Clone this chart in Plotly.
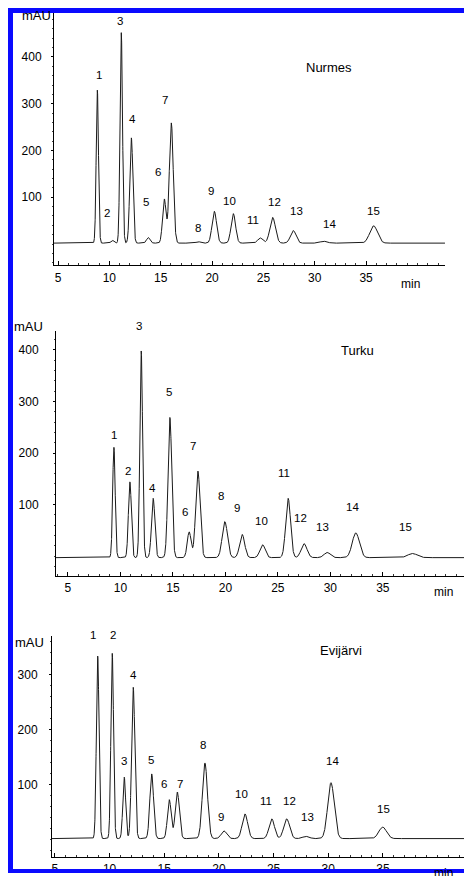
import numpy as np
import plotly.graph_objects as go

# ---------------- data ----------------
peak_labels = [str(i) for i in range(1, 16)]

# Nurmes
nurmes_rt = [8.83, 10.29, 11.16, 12.14, 13.79, 15.35, 16.03, 18.66, 20.22, 22.07, 24.7, 25.9, 27.9, 30.86, 35.73]
nurmes_height = [327, 6, 450, 225, 12, 94, 257, 3, 68, 63, 11, 55, 27, 4, 37]
nurmes_sigma = [0.11, 0.14, 0.12, 0.15, 0.17, 0.17, 0.19, 0.2, 0.22, 0.22, 0.25, 0.27, 0.27, 0.35, 0.38]
nurmes_baseline = 2

# Turku
turku_rt = [9.38, 10.9, 11.98, 13.12, 14.71, 16.55, 17.38, 19.95, 21.6, 23.54, 25.98, 27.5, 29.7, 32.43, 37.83]
turku_height = [214, 147, 401, 115, 272, 50, 168, 70, 45, 25, 115, 27, 10, 48, 8]
turku_sigma = [0.12, 0.14, 0.13, 0.16, 0.18, 0.18, 0.21, 0.25, 0.24, 0.25, 0.23, 0.28, 0.3, 0.34, 0.45]
turku_baseline = -3

# Evijärvi
evijarvi_rt = [8.91, 10.24, 11.34, 12.16, 13.85, 15.46, 16.19, 18.72, 20.46, 22.38, 24.83, 26.2, 27.96, 30.25, 34.98]
evijarvi_height = [333, 338, 112, 276, 118, 71, 85, 138, 14, 45, 36, 36, 4, 102, 21]
evijarvi_sigma = [0.12, 0.12, 0.13, 0.15, 0.17, 0.17, 0.19, 0.23, 0.25, 0.25, 0.25, 0.27, 0.3, 0.3, 0.35]
evijarvi_baseline = 1

x_tick_values = [5, 10, 15, 20, 25, 30, 35]
y_tick_values_1 = [100, 200, 300, 400]
y_tick_values_2 = [100, 200, 300, 400]
y_tick_values_3 = [100, 200, 300]

sample_names = ["Nurmes", "Turku", "Evijärvi"]

# peak-number label positions (min, mAU)
nurmes_lab_x = [9.02, 9.8, 11.07, 12.23, 13.6, 14.77, 15.45, 18.66, 19.93, 21.68, 24.0, 26.05, 28.2, 31.4, 35.7]
nurmes_lab_y = [362, 66, 477, 268, 89, 155, 309, 34, 113, 91, 51, 89, 70, 43, 70]
turku_lab_x = [9.38, 10.71, 11.76, 13.1, 14.62, 16.14, 16.9, 19.57, 21.1, 23.48, 25.57, 27.19, 29.29, 32.14, 37.19]
turku_lab_y = [234, 166, 447, 133, 319, 85, 213, 116, 93, 68, 161, 73, 56, 95, 56]
evijarvi_lab_x = [8.48, 10.31, 11.31, 12.14, 13.78, 14.97, 16.44, 18.54, 20.19, 22.11, 24.3, 26.41, 28.06, 30.43, 35.01]
evijarvi_lab_y = [373, 373, 142, 300, 144, 100, 100, 171, 40, 82, 69, 69, 40, 142, 55]

# ---------------- layout geometry ----------------
# page has an 8px body margin, so the figure is offset by 8px
OFF = 8
W, H = 464, 868
FONT = "Liberation Sans, Arial, sans-serif"


def px_x(p):
    return (p - OFF) / W


def px_y(p):
    return 1 - (p - OFF) / H


panels = [
    dict(rt=nurmes_rt, h=nurmes_height, s=nurmes_sigma, b=nurmes_baseline,
         xr=[4.61, 42.68], yr=[-45, 494], xd=[54, 445], yd=[13, 266],
         yt=y_tick_values_1, lx=nurmes_lab_x, ly=nurmes_lab_y, ystand=7,
         name=sample_names[0], title=(329, 68), mau=(36, 16), minl=(410, 285)),
    dict(rt=turku_rt, h=turku_height, s=turku_sigma, b=turku_baseline,
         xr=[3.86, 43.5], yr=[-38.7, 437], xd=[56, 472], yd=[332, 578],
         yt=y_tick_values_2, lx=turku_lab_x, ly=turku_lab_y, ystand=12,
         name=sample_names[1], title=(357, 352), mau=(28, 328), minl=(443, 594)),
    dict(rt=evijarvi_rt, h=evijarvi_height, s=evijarvi_sigma, b=evijarvi_baseline,
         xr=[4.73, 43.15], yr=[-32.7, 371], xd=[52, 472], yd=[638, 860],
         yt=y_tick_values_3, lx=evijarvi_lab_x, ly=evijarvi_lab_y, ystand=9,
         name=sample_names[2], title=(341, 653), mau=(29, 645), minl=(443, 876)),
]

fig = go.Figure()
annotations = []

for i, p in enumerate(panels, start=1):
    sfx = "" if i == 1 else str(i)
    t = np.arange(p["xr"][0], p["xr"][1], 0.004)
    sig = np.full_like(t, float(p["b"]))
    for rt, h, s in zip(p["rt"], p["h"], p["s"]):
        sig += h * np.exp(-0.5 * ((t - rt) / s) ** 2)
    fig.add_trace(go.Scatter(x=t, y=sig, mode="lines",
                             line=dict(color="#1a1a1a", width=1),
                             xaxis="x" + sfx, yaxis="y" + sfx,
                             showlegend=False, hoverinfo="skip"))
    xdom = [px_x(p["xd"][0]), px_x(p["xd"][1])]
    ydom = [px_y(p["yd"][1]), px_y(p["yd"][0])]
    fig.update_layout(**{
        "xaxis" + sfx: dict(
            domain=xdom, range=p["xr"],
            anchor="y" + sfx, showline=True, linecolor="black", linewidth=1,
            showgrid=False, zeroline=False, tickmode="array", tickvals=x_tick_values,
            ticks="inside", ticklen=4, tickcolor="black", tickwidth=1,
            minor=dict(ticks="inside", ticklen=2, dtick=1, tick0=0, tickcolor="#333", showgrid=False),
            tickfont=dict(family=FONT, size=12, color="black"), ticklabelstandoff=1,
            fixedrange=True),
        "yaxis" + sfx: dict(
            domain=ydom, range=p["yr"],
            anchor="x" + sfx, showline=True, linecolor="black", linewidth=1,
            showgrid=False, zeroline=False, tickmode="array", tickvals=p["yt"],
            ticks="outside", ticklen=2, tickcolor="black",
            minor=dict(ticks="outside", ticklen=1, dtick=20, tick0=0, tickcolor="#444", showgrid=False),
            tickfont=dict(family=FONT, size=12, color="black"), ticklabelstandoff=p["ystand"],
            fixedrange=True),
    })

    # peak labels placed in paper space (so labels above the axis top are still drawn)
    def to_paper(xv, yv):
        fx = (xv - p["xr"][0]) / (p["xr"][1] - p["xr"][0])
        fy = (yv - p["yr"][0]) / (p["yr"][1] - p["yr"][0])
        return xdom[0] + fx * (xdom[1] - xdom[0]), ydom[0] + fy * (ydom[1] - ydom[0])

    for lab, lx, ly in zip(peak_labels, p["lx"], p["ly"]):
        ax_, ay_ = to_paper(lx, ly)
        annotations.append(dict(x=ax_, y=ay_, xref="paper", yref="paper", text=lab, showarrow=False,
                                font=dict(family=FONT, size=11.5, color="black"),
                                xanchor="center", yanchor="middle"))
    annotations.append(dict(x=px_x(p["title"][0]), y=px_y(p["title"][1]), xref="paper", yref="paper",
                            text=p["name"], showarrow=False,
                            font=dict(family=FONT, size=13, color="black"),
                            xanchor="center", yanchor="middle"))
    annotations.append(dict(x=px_x(p["mau"][0]), y=px_y(p["mau"][1]), xref="paper", yref="paper",
                            text="mAU", showarrow=False,
                            font=dict(family=FONT, size=13, color="black"),
                            xanchor="center", yanchor="middle"))
    annotations.append(dict(x=px_x(p["minl"][0]), y=px_y(p["minl"][1]), xref="paper", yref="paper",
                            text="min", showarrow=False,
                            font=dict(family=FONT, size=12, color="black"),
                            xanchor="center", yanchor="middle"))

BLUE = "#0a0aff"
shapes = [
    dict(type="rect", xref="paper", yref="paper", x0=px_x(8), x1=px_x(13), y0=0, y1=px_y(8),
         fillcolor=BLUE, line=dict(width=0), layer="above"),
    dict(type="rect", xref="paper", yref="paper", x0=px_x(8), x1=1, y0=px_y(13), y1=px_y(8),
         fillcolor=BLUE, line=dict(width=0), layer="above"),
    dict(type="rect", xref="paper", yref="paper", x0=px_x(8), x1=1, y0=0, y1=px_y(872),
         fillcolor=BLUE, line=dict(width=0), layer="above"),
]

fig.update_layout(
    width=W, height=H, margin=dict(l=0, r=0, t=0, b=0),
    paper_bgcolor="white", plot_bgcolor="white",
    annotations=annotations, shapes=shapes, showlegend=False,
    font=dict(family=FONT, color="black"),
)

fig.write_html("out.html", config={"displayModeBar": False})
